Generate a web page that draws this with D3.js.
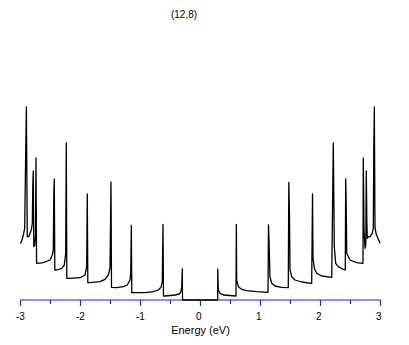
<!DOCTYPE html>
<html>
<head>
<meta charset="utf-8">
<script src="https://cdn.jsdelivr.net/npm/d3@7"></script>
<style>
  body { margin: 0; background: #fff; }
  svg text { font-family: "Liberation Sans", Arial, sans-serif; fill: #000; }
</style>
</head>
<body>
<svg id="chart" width="409" height="345"></svg>
<script>
// DOS curve (energy in eV, DOS in arbitrary units)
var energy = [
  -3.000, -2.975, -2.953, -2.930, -2.913, -2.902, -2.887, -2.863, -2.842, -2.820,
  -2.803, -2.795, -2.787, -2.778, -2.763, -2.750, -2.742, -2.732, -2.620, -2.508,
  -2.470, -2.453, -2.445, -2.437, -2.428, -2.397, -2.313, -2.270, -2.247, -2.237,
  -2.228, -2.175, -2.008, -1.925, -1.897, -1.887, -1.878, -1.842, -1.675, -1.592,
  -1.537, -1.508, -1.492, -1.483, -1.397, -1.287, -1.220, -1.175, -1.163, -1.153,
  -1.145, -0.925, -0.787, -0.703, -0.658, -0.637, -0.625, -0.617, -0.592, -0.425,
  -0.353, -0.325, -0.313, -0.303, -0.300,
  0.287, 0.287, 0.297, 0.325, 0.380, 0.592, 0.597, 0.603, 0.630, 0.687,
  0.770, 0.937, 1.125, 1.133, 1.142, 1.158, 1.187, 1.242, 1.353, 1.463,
  1.472, 1.483, 1.492, 1.520, 1.575, 1.687, 1.853, 1.867, 1.875, 1.897,
  1.937, 2.020, 2.187, 2.213, 2.230, 2.253, 2.297, 2.380, 2.413, 2.420,
  2.428, 2.437, 2.492, 2.603, 2.708, 2.713, 2.725, 2.742, 2.755, 2.763,
  2.772, 2.780, 2.803, 2.825, 2.863, 2.880, 2.888, 2.897, 2.908, 2.925,
  2.947, 2.970, 2.992
];
var dos = [
  2.83, 3.00, 3.25, 3.585, 7.50, 9.65, 3.165, 3.165, 3.335, 3.50,
  3.835, 5.70, 6.45, 2.665, 2.75, 3.25, 7.10, 1.835, 1.865, 2.00,
  2.25, 2.50, 5.35, 6.05, 1.50, 1.50, 1.585, 1.75, 2.335, 7.85,
  1.085, 1.085, 1.115, 1.25, 1.665, 5.30, 0.865, 0.865, 0.915, 1.035,
  1.25, 1.585, 5.90, 0.635, 0.615, 0.665, 0.75, 1.00, 1.335, 3.735,
  0.365, 0.365, 0.415, 0.50, 0.635, 0.915, 3.785, 0.20, 0.20, 0.25,
  0.30, 0.415, 0.665, 1.55, 0,
  0, 1.55, 0.50, 0.335, 0.25, 0.20, 3.785, 1.00, 0.665, 0.535,
  0.465, 0.415, 0.385, 3.75, 3.00, 1.15, 0.835, 0.70, 0.635, 0.615,
  5.885, 4.25, 1.50, 1.165, 1.00, 0.90, 0.835, 5.30, 2.10, 1.585,
  1.335, 1.20, 1.135, 7.85, 2.665, 1.835, 1.665, 1.535, 1.50, 6.05,
  5.00, 2.335, 2.00, 1.865, 1.835, 7.10, 3.50, 2.585, 2.75, 6.45,
  4.00, 3.085, 3.165, 3.165, 3.335, 3.585, 7.50, 9.65, 3.665, 3.335,
  3.165, 3.00, 2.835
];
var majorTicks = [-3, -2, -1, 0, 1, 2, 3];
var minorTicks = [-2.5, -1.5, -0.5, 0.5, 1.5, 2.5];
var title = '(12,8)';
var xTitle = 'Energy (eV)';

var svg = d3.select('#chart');
var x = d3.scaleLinear().domain([-3, 3]).range([20.5, 380.5]);
var y = d3.scaleLinear().domain([0, 10]).range([300, 100]);
var axisColor = '#2424c8';

// x axis: blue line with long ticks at integers, short ones at halves
var ax = svg.append('g').attr('transform', 'translate(0,300)');
ax.append('line')
  .attr('x1', x(-3)).attr('x2', x(3))
  .attr('stroke', axisColor).attr('stroke-width', 1.2);
ax.selectAll('line.major').data(majorTicks).enter().append('line')
  .attr('class', 'major')
  .attr('x1', d => x(d)).attr('x2', d => x(d))
  .attr('y1', 0).attr('y2', 6)
  .attr('stroke', axisColor).attr('stroke-width', 1.2);
ax.selectAll('line.minor').data(minorTicks).enter().append('line')
  .attr('class', 'minor')
  .attr('x1', d => x(d)).attr('x2', d => x(d))
  .attr('y1', 0).attr('y2', 4)
  .attr('stroke', axisColor).attr('stroke-width', 1.2);
ax.selectAll('text').data(majorTicks).enter().append('text')
  .attr('x', d => x(d) - 4.5)
  .attr('y', 19.5)
  .attr('font-size', '10px')
  .text(d => d < 0 ? '-' + Math.abs(d) : d);

svg.append('text')
  .attr('x', 200.5).attr('y', 333.5)
  .attr('text-anchor', 'middle')
  .attr('font-size', '11px')
  .text(xTitle);

svg.append('text')
  .attr('x', 184).attr('y', 18)
  .attr('text-anchor', 'middle')
  .attr('font-size', '10px')
  .text(title);

// the curve itself
var line = d3.line()
  .x((d, i) => x(energy[i]))
  .y(d => y(d));
svg.append('path')
  .datum(dos)
  .attr('d', line)
  .attr('fill', 'none')
  .attr('stroke', '#000')
  .attr('stroke-width', 1.3)
  .attr('stroke-linejoin', 'round');
</script>
</body>
</html>
